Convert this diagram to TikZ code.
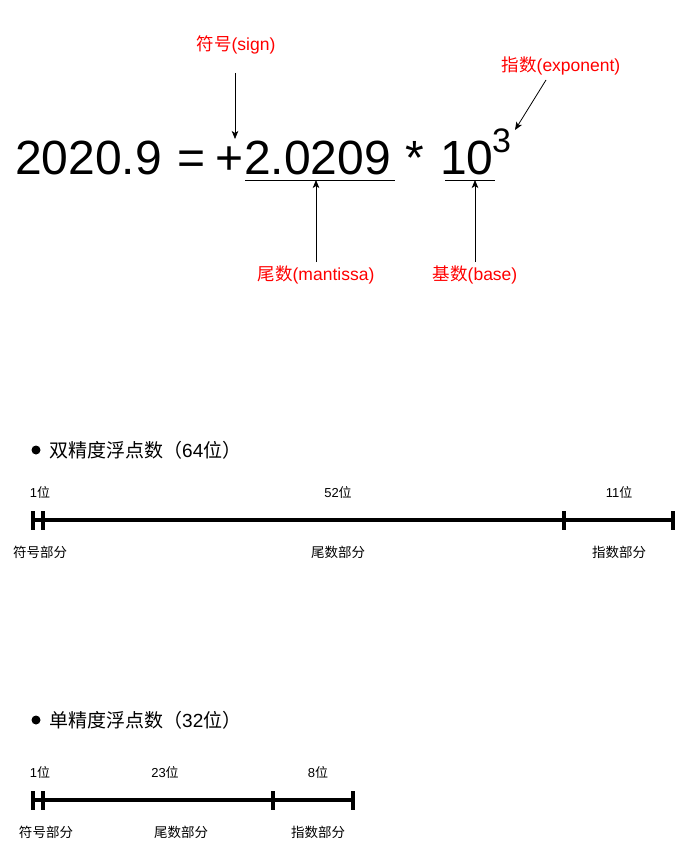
\documentclass[tikz,border=0pt]{standalone}
\usepackage{fontspec}
\setmainfont{Liberation Sans}
\newfontfamily\cjk{Noto Sans CJK SC}
\newcommand\zh[1]{{\cjk #1}}
\usetikzlibrary{arrows.meta}
\tikzset{
  eq/.style={font=\fontsize{48}{48}\selectfont, inner sep=0pt, anchor=base west},
  sup/.style={font=\fontsize{34}{34}\selectfont, inner sep=0pt, anchor=base west},
  lbl/.style={text=red, font=\fontsize{17.5}{17.5}\selectfont, inner sep=0pt},
  arr/.style={-{Stealth[length=8pt,width=6.5pt,inset=2pt]}, line width=0.8pt},
  ul/.style={line width=0.9pt},
  head/.style={font=\fontsize{19}{19}\selectfont, inner sep=0pt, anchor=west},
  bits/.style={font=\fontsize{13}{13}\selectfont, inner sep=0pt},
  part/.style={font=\fontsize{13.5}{13.5}\selectfont, inner sep=0pt},
  bar/.style={line width=3.2pt},
  tick/.style={line width=3.2pt},
}
\begin{document}
\begin{tikzpicture}[x=1pt,y=-1pt]
\useasboundingbox (0,0) rectangle (675,851);
% ---------- equation ----------
\node[eq] (n1) at (15,174) {2020.9};
\node[eq] (n2) at (177,174) {=};
\node[eq] (n3) at (215,174) {+};
\node[eq] (n4) at (244,174) {2.0209};
\node[eq] (n5) at (405,174) {*};
\node[eq] (n6) at (440,174) {10};
\node[sup] (n7) at (492,152) {3};
\coordinate (u1a) at (245,180);
\coordinate (u1b) at (395,180);
\coordinate (u2a) at (445,180);
\coordinate (u2b) at (495,180);
\draw[ul] (u1a) -- (u1b);
\draw[ul] (u2a) -- (u2b);
% labels
\node[lbl] (sign) at (236,45) {\zh{符号}(sign)};
\node[lbl] (expo) at (561,66) {\zh{指数}(exponent)};
\node[lbl] (mant) at (316,275) {\zh{尾数}(mantissa)};
\node[lbl] (base) at (475,275) {\zh{基数}(base)};
\coordinate (s0) at (235,73);
\coordinate (s1) at (235,139);
\coordinate (e0) at (546,80);
\coordinate (e1) at (515,130);
\coordinate (m0) at (316,262);
\coordinate (m1) at (316,180);
\coordinate (b0) at (475,262);
\coordinate (b1) at (475,180);
\draw[arr] (s0) -- (s1);
\draw[arr] (e0) -- (e1);
\draw[arr] (m0) -- (m1);
\draw[arr] (b0) -- (b1);
% ---------- double precision ----------
\fill (36,450) circle (4.5pt);
\node[head] (h1) at (49,450) {\zh{双精度浮点数（}64\zh{位）}};
\coordinate (d0) at (33,520);
\coordinate (d1) at (43,520);
\coordinate (d2) at (564,520);
\coordinate (d3) at (673,520);
\draw[bar] (d0) -- (d3);
\foreach \p in {d0,d1,d2,d3} \draw[tick] ([yshift=-9.5pt]\p) -- ([yshift=9.5pt]\p);
\node[bits] (dt1) at (40,492) {1\zh{位}};
\node[bits] (dt2) at (338,492) {52\zh{位}};
\node[bits] (dt3) at (619,492) {11\zh{位}};
\node[part] (db1) at (40,552) {\zh{符号部分}};
\node[part] (db2) at (338,552) {\zh{尾数部分}};
\node[part] (db3) at (619,552) {\zh{指数部分}};
% ---------- single precision ----------
\fill (36,720) circle (4.5pt);
\node[head] (h2) at (49,720) {\zh{单精度浮点数（}32\zh{位）}};
\coordinate (f0) at (33,800);
\coordinate (f1) at (43,800);
\coordinate (f2) at (273,800);
\coordinate (f3) at (353,800);
\draw[bar] (f0) -- (f3);
\foreach \p in {f0,f1,f2,f3} \draw[tick] ([yshift=-9.5pt]\p) -- ([yshift=9.5pt]\p);
\node[bits] (ft1) at (40,772) {1\zh{位}};
\node[bits] (ft2) at (165,772) {23\zh{位}};
\node[bits] (ft3) at (318,772) {8\zh{位}};
\node[part] (fb1) at (46,832) {\zh{符号部分}};
\node[part] (fb2) at (181,832) {\zh{尾数部分}};
\node[part] (fb3) at (318,832) {\zh{指数部分}};
\end{tikzpicture}
\end{document}
